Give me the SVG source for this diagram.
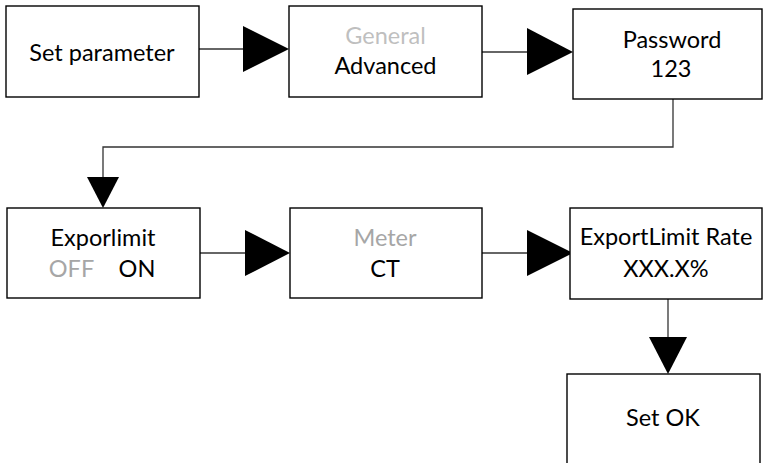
<svg xmlns="http://www.w3.org/2000/svg" width="763" height="463" viewBox="0 0 763 463">
<style>
.box{fill:#fff;stroke:#000;stroke-width:1.4}
.t{font-family:Lato,"Liberation Sans",sans-serif;font-size:23.5px;fill:#000;text-anchor:middle}
.g1{fill:#bfbfbf}
.g2{fill:#a6a6a6}
.c{fill:none;stroke:#333;stroke-width:1.3}
.h{fill:#000;stroke:none}
</style>
<rect width="763" height="463" fill="#fff"/>
<g id="connectors">
<path class="c" d="M199 49H243"/>
<polygon class="h" points="243,26 289,49 243,72"/>
<path class="c" d="M482 52H527"/>
<polygon class="h" points="527,28 573,52 527,75"/>
<path class="c" d="M673 99V147H103V177"/>
<polygon class="h" points="87,177 119,177 103,208"/>
<path class="c" d="M200 253H245"/>
<polygon class="h" points="245,230 290,253 245,276"/>
<path class="c" d="M482 253H527"/>
<polygon class="h" points="527,230 573,253 527,276"/>
<path class="c" d="M668 299V337"/>
<polygon class="h" points="649,337 687,337 668,374"/>
</g>
<g id="n1"><rect class="box" x="6" y="6" width="193" height="91"/><text class="t" x="102" y="61">Set parameter</text></g>
<g id="n2"><rect class="box" x="289" y="6" width="193" height="91"/><text class="t g1" x="385.5" y="44">General</text><text class="t" x="385.5" y="74">Advanced</text></g>
<g id="n3"><rect class="box" x="573" y="9" width="189" height="90"/><text class="t" x="672" y="48">Password</text><text class="t" x="671" y="77">123</text></g>
<g id="n4"><rect class="box" x="7" y="208" width="193" height="90"/><text class="t" x="103" y="246">Exporlimit</text><text class="t g2" x="71.5" y="277">OFF</text><text class="t" x="137" y="277">ON</text></g>
<g id="n5"><rect class="box" x="290" y="208" width="192" height="90"/><text class="t g2" x="385" y="246">Meter</text><text class="t" x="385" y="277">CT</text></g>
<g id="n6"><rect class="box" x="570" y="208" width="192" height="91"/><text class="t" x="666" y="245">ExportLimit Rate</text><text class="t" x="666" y="277">XXX.X%</text></g>
<g id="n7"><rect class="box" x="567" y="374" width="193" height="100"/><text class="t" x="663" y="426">Set OK</text></g>
</svg>
